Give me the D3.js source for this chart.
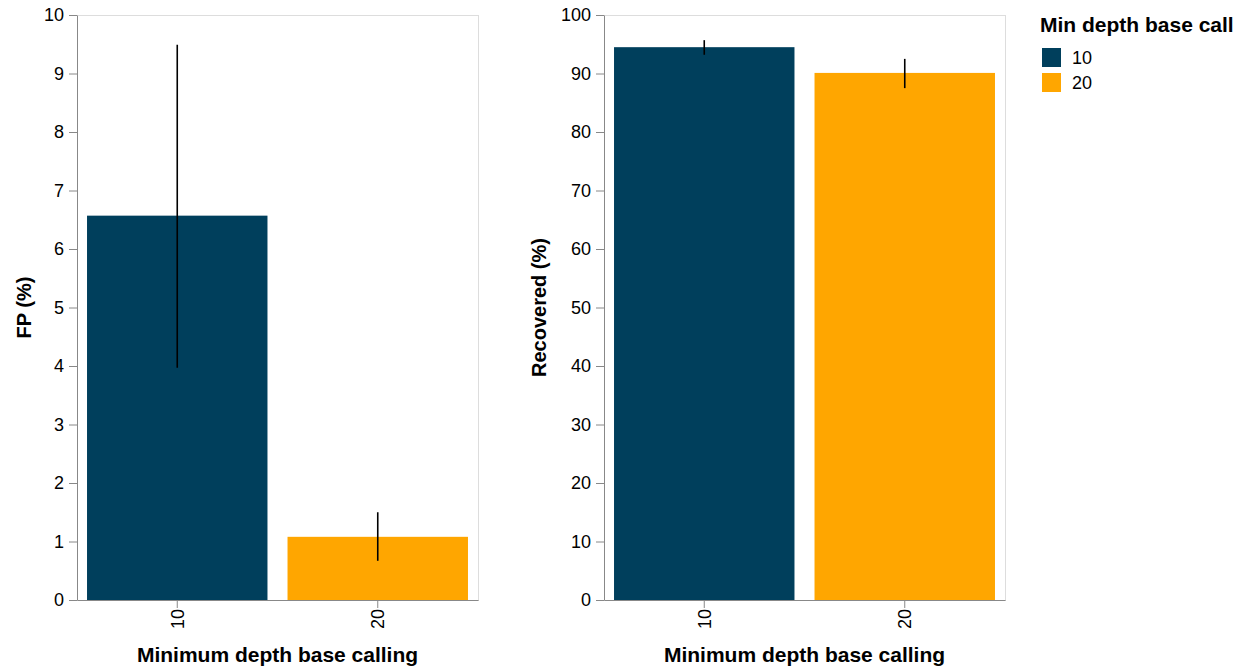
<!DOCTYPE html>
<html>
<head>
<meta charset="utf-8">
<script src="https://cdn.jsdelivr.net/npm/d3@7"></script>
<style>
  body { margin: 0; background: #fff; }
  text { font-family: "Liberation Sans", Arial, sans-serif; fill: #000; }
</style>
</head>
<body>
<div id="chart"></div>
<script>
// data
const depths = ["10", "20"];
const fpMean = [6.57, 1.08];
const fpLow = [3.97, 0.67];
const fpHigh = [9.49, 1.50];
const recMean = [94.5, 90.1];
const recLow = [93.2, 87.5];
const recHigh = [95.7, 92.5];
const fpTicks = [0, 1, 2, 3, 4, 5, 6, 7, 8, 9, 10];
const recTicks = [0, 10, 20, 30, 40, 50, 60, 70, 80, 90, 100];
const colors = ["#003f5c", "#ffa600"];

const W = 1249, H = 670;
const plotW = 401, plotH = 585, marginTop = 15;

const svg = d3.select("#chart")
    .append("svg")
    .attr("width", W)
    .attr("height", H);

const color = d3.scaleOrdinal().domain(depths).range(colors);

function panel(left, means, lows, highs, ticks, yMax, yTitle, titleOffset) {
    const g = svg.append("g")
        .attr("transform", `translate(${left},${marginTop})`);

    const x = d3.scaleBand()
        .domain(depths)
        .range([0, plotW])
        .paddingInner(0.1)
        .paddingOuter(0.05);
    const y = d3.scaleLinear()
        .domain([0, yMax])
        .range([plotH, 0]);

    // frame
    g.append("rect")
        .attr("x", 0.5).attr("y", 0.5)
        .attr("width", plotW).attr("height", plotH)
        .attr("fill", "none")
        .attr("stroke", "#ddd");

    const rows = depths.map((d, i) => ({d: d, m: means[i], lo: lows[i], hi: highs[i]}));

    g.selectAll(".bar")
        .data(rows)
        .enter().append("rect")
        .attr("x", d => x(d.d))
        .attr("y", d => y(d.m))
        .attr("width", x.bandwidth())
        .attr("height", d => plotH - y(d.m))
        .attr("fill", d => color(d.d));

    g.selectAll(".err")
        .data(rows)
        .enter().append("line")
        .attr("x1", d => x(d.d) + x.bandwidth() / 2)
        .attr("x2", d => x(d.d) + x.bandwidth() / 2)
        .attr("y1", d => y(d.lo))
        .attr("y2", d => y(d.hi))
        .attr("stroke", "#000")
        .attr("stroke-width", 1.6);

    const yAxis = g.append("g")
        .call(d3.axisLeft(y).tickValues(ticks).tickSize(8).tickPadding(5));
    yAxis.selectAll("text").style("font-size", "18px");
    yAxis.selectAll("line, path").attr("stroke", "#888");
    yAxis.select(".domain").attr("d", `M0.5,0.5V${plotH + 0.5}`);

    const xAxis = g.append("g")
        .attr("transform", `translate(0,${plotH})`)
        .call(d3.axisBottom(x).tickSize(8).tickPadding(4));
    xAxis.selectAll("line, path").attr("stroke", "#888");
    xAxis.select(".domain").attr("d", `M0.5,0.5H${plotW + 0.5}`);
    xAxis.selectAll("text")
        .style("font-size", "18px")
        .attr("transform", "rotate(-90)")
        .attr("text-anchor", "end")
        .attr("dy", "0.35em")
        .attr("x", -9)
        .attr("y", 0);

    g.append("text")
        .attr("x", plotW / 2)
        .attr("y", plotH + 62)
        .attr("text-anchor", "middle")
        .style("font-size", "21px")
        .style("font-weight", "bold")
        .text("Minimum depth base calling");

    g.append("text")
        .attr("transform", `translate(${titleOffset},${plotH / 2}) rotate(-90)`)
        .attr("text-anchor", "middle")
        .style("font-size", "20px")
        .style("font-weight", "bold")
        .text(yTitle);
}

panel(77, fpMean, fpLow, fpHigh, fpTicks, 10, "FP (%)", -46);
panel(604, recMean, recLow, recHigh, recTicks, 100, "Recovered (%)", -58);

// legend
const legend = svg.append("g").attr("transform", "translate(1040,0)");
legend.append("text")
    .attr("x", 0).attr("y", 32)
    .style("font-size", "21px")
    .style("font-weight", "bold")
    .text("Min depth base call");
const items = legend.selectAll(".item")
    .data(depths)
    .enter().append("g")
    .attr("transform", (d, i) => `translate(0,${48 + i * 25})`);
items.append("rect")
    .attr("x", 2).attr("y", 0)
    .attr("width", 19).attr("height", 19)
    .attr("fill", d => color(d));
items.append("text")
    .attr("x", 32).attr("y", 10)
    .attr("dy", "0.35em")
    .style("font-size", "18px")
    .text(d => d);
</script>
</body>
</html>
